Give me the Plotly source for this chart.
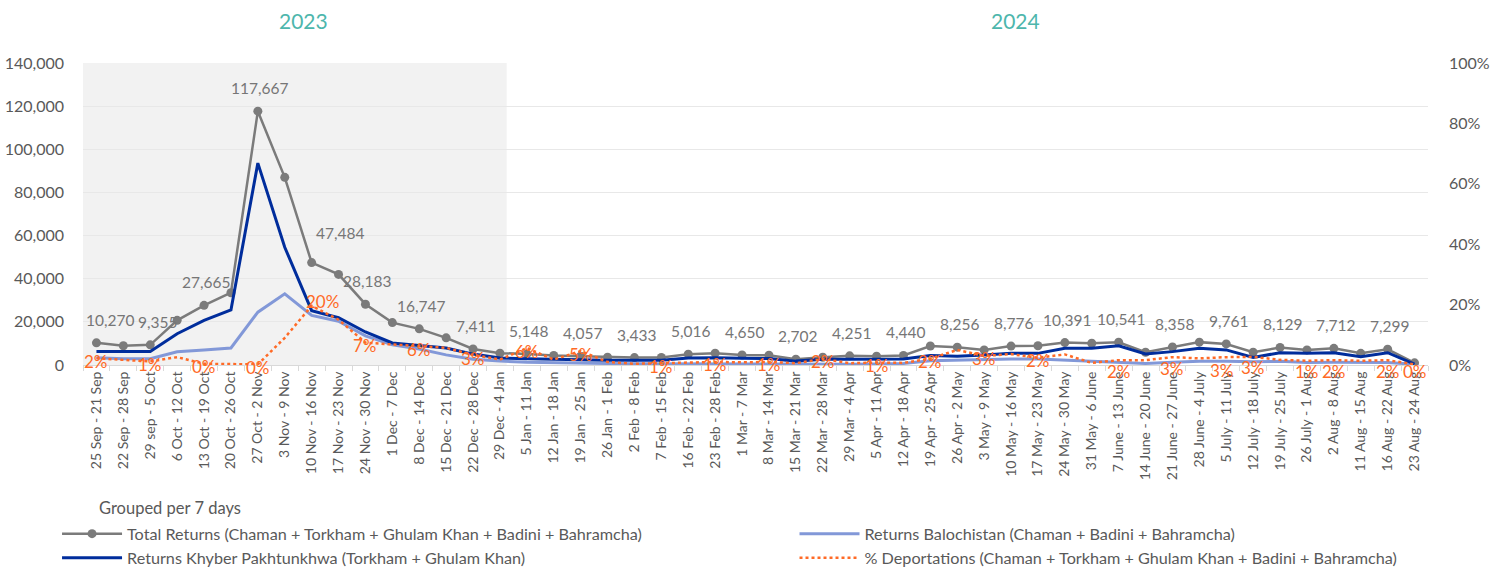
import plotly.graph_objects as go

categories = [
    "25 Sep - 21 Sep", "22 Sep - 28 Sep", "29 sep - 5 Oct", "6 Oct - 12 Oct", "13 Oct - 19 Oct",
    "20 Oct - 26 Oct", "27 Oct - 2 Nov", "3 Nov - 9 Nov", "10 Nov - 16 Nov", "17 Nov - 23 Nov",
    "24 Nov - 30 Nov", "1 Dec - 7 Dec", "8 Dec - 14 Dec", "15 Dec - 21 Dec", "22 Dec - 28 Dec",
    "29 Dec - 4 Jan", "5 Jan - 11 Jan", "12 Jan - 18 Jan", "19 Jan - 25 Jan", "26 Jan - 1 Feb",
    "2 Feb - 8 Feb", "7 Feb - 15 Feb", "16 Feb - 22 Feb", "23 Feb - 28 Feb", "1 Mar - 7 Mar",
    "8 Mar - 14 Mar", "15 Mar - 21 Mar", "22 Mar - 28 Mar", "29 Mar - 4 Apr", "5 Apr - 11 Apr",
    "12 Apr - 18 Apr", "19 Apr - 25 Apr", "26 Apr - 2 May", "3 May - 9 May", "10 May - 16 May",
    "17 May - 23 May", "24 May - 30 May", "31 May - 6 June", "7 June - 13 June", "14 June - 20 June",
    "21 June - 27 June", "28 June - 4 July", "5 July - 11 July", "12 July - 18 July", "19 July - 25 July",
    "26 July - 1 Aug", "2 Aug - 8 Aug", "11 Aug - 15 Aug", "16 Aug - 22 Aug", "23 Aug - 24 Aug",
]

total_returns = [
    10270, 8900, 9355, 20700, 27665, 33500, 117667, 87000, 47484, 42000,
    28183, 19650, 16747, 12600, 7411, 5500, 5148, 4400, 4057, 3600,
    3433, 3500, 5016, 5500, 4650, 4550, 2702, 3600, 4251, 4100,
    4440, 8800, 8256, 7000, 8776, 8900, 10391, 10100, 10541, 5900,
    8358, 10600, 9761, 5900, 8129, 7000, 7712, 5400, 7299, 1000,
]

returns_kp = [
    6300, 6200, 6300, 14500, 20700, 25500, 93600, 54600, 25200, 21900,
    15300, 10200, 9000, 7900, 5050, 3300, 2900, 2500, 2400, 2200,
    2100, 2200, 3200, 3400, 3100, 3000, 1800, 2700, 2700, 2700,
    2800, 4400, 4000, 4600, 5400, 5400, 7800, 7800, 8900, 5100,
    6200, 7800, 7000, 3500, 5700, 5400, 5700, 3850, 5700, 400,
]

returns_balochistan = [
    3400, 2900, 2900, 6100, 7000, 7900, 24500, 33000, 23000, 20300,
    13500, 9400, 7400, 4700, 2700, 1800, 1300, 1000, 850, 700,
    550, 500, 400, 350, 350, 350, 300, 350, 350, 450,
    700, 2000, 2300, 2600, 2800, 2800, 2200, 1800, 1300, 700,
    1300, 1700, 1700, 1500, 1700, 1200, 1300, 1200, 1200, 300,
]

pct_deportations = [
    2.2, 1.8, 1.2, 2.6, 0.4, 0.3, 0.2, 9.0, 19.6, 15.0,
    7.4, 6.8, 6.2, 5.7, 3.3, 1.8, 5.6, 1.8, 4.6, 1.0,
    0.4, 0.6, 0.7, 1.0, 0.9, 1.0, 0.6, 2.0, 0.6, 0.8,
    0.7, 2.1, 5.0, 3.0, 3.6, 2.4, 3.5, 0.7, 1.6, 1.6,
    2.6, 2.2, 2.6, 2.7, 1.7, 1.4, 1.6, 1.4, 1.6, 0.2,
]

total_label_idx = list(range(0, 50, 2))
pct_label_idx = [0, 2, 4, 6, 8, 10, 12, 14, 16, 18, 21, 23, 25, 27, 29, 31, 33, 35,
                 38, 40, 42, 43, 45, 46, 48, 49]

year_labels = ["2023", "2024"]
left_ticks = [0, 20000, 40000, 60000, 80000, 100000, 120000, 140000]
right_ticks = [0, 20, 40, 60, 80, 100]

# ---- styling ----
FONT = "Lato"
GRAY_TXT = "#595959"
C_TOTAL = "#7b7b7b"
C_KP = "#002d9c"
C_BAL = "#8298d8"
C_DEP = "#ff6a26"

# label offsets (xshift, yshift) in px – styling only
total_shift = {0: (14, 23), 2: (7, 23), 8: (28, 30)}
pct_shift_default = (0, -3)
pct_shift = {8: (11, 4)}
for i in [38, 40, 42, 43, 45, 46, 48]:
    pct_shift[i] = (0, -11)
pct_shift[49] = (0, -7)
pct_shift[42] = (-4, -13)

fig = go.Figure()

fig.add_trace(go.Scatter(
    x=categories, y=total_returns, mode="lines+markers",
    name="Total Returns (Chaman + Torkham + Ghulam Khan + Badini + Bahramcha)",
    line=dict(color=C_TOTAL, width=2.5), marker=dict(color=C_TOTAL, size=9),
    legend="legend", legendrank=1,
))
fig.add_trace(go.Scatter(
    x=categories, y=returns_balochistan, mode="lines",
    name="Returns Balochistan (Chaman + Badini + Bahramcha)",
    line=dict(color=C_BAL, width=3), legend="legend2", legendrank=1,
))
fig.add_trace(go.Scatter(
    x=categories, y=returns_kp, mode="lines",
    name="Returns Khyber Pakhtunkhwa (Torkham + Ghulam Khan)",
    line=dict(color=C_KP, width=3), legend="legend", legendrank=2,
))
fig.add_trace(go.Scatter(
    x=categories, y=pct_deportations, mode="lines", yaxis="y2",
    name="% Deportations (Chaman + Torkham + Ghulam Khan + Badini + Bahramcha)",
    line=dict(color=C_DEP, width=2.5, dash="dot"), legend="legend2", legendrank=2,
))

annotations = []
for i in total_label_idx:
    xs, ys = total_shift.get(i, (2, 23))
    annotations.append(dict(
        x=categories[i], y=total_returns[i], xref="x", yref="y",
        text=f"{total_returns[i]:,}", showarrow=False, xshift=xs, yshift=ys,
        xanchor="center", yanchor="middle",
        font=dict(family=FONT, size=15.5, color="#767676"),
    ))
for i in pct_label_idx:
    xs, ys = pct_shift.get(i, pct_shift_default)
    annotations.append(dict(
        x=categories[i], y=pct_deportations[i], xref="x", yref="y2",
        text=f"{pct_deportations[i]:.0f}%", showarrow=False, xshift=xs, yshift=ys,
        xanchor="center", yanchor="middle",
        font=dict(family=FONT, size=17, color=C_DEP),
    ))

annotations.append(dict(x=0.1636, y=1, xref="paper", yref="paper", yshift=43,
                        xanchor="center", yanchor="middle",
                        text=year_labels[0], showarrow=False,
                        font=dict(family=FONT, size=21, color="#4db6ac")))
annotations.append(dict(x=0.693, y=1, xref="paper", yref="paper", yshift=43,
                        xanchor="center", yanchor="middle",
                        text=year_labels[1], showarrow=False,
                        font=dict(family=FONT, size=21, color="#4db6ac")))
annotations.append(dict(x=0.0105, y=-0.475, xref="paper", yref="paper",
                        xanchor="left", yanchor="middle", text="Grouped per 7 days",
                        showarrow=False,
                        font=dict(family=FONT, size=16.5, color=GRAY_TXT)))

legend_common = dict(orientation="v", xanchor="left", yanchor="top",
                     font=dict(family=FONT, size=16.2, color=GRAY_TXT),
                     tracegroupgap=0, bgcolor="rgba(0,0,0,0)", itemwidth=60)

fig.update_layout(
    width=1503, height=571,
    margin=dict(l=83, r=75, t=63, b=206, autoexpand=False),
    paper_bgcolor="white", plot_bgcolor="white",
    font=dict(family=FONT, color=GRAY_TXT),
    showlegend=True,
    legend=dict(x=-0.0193, y=-0.502, **legend_common),
    legend2=dict(x=0.529, y=-0.502, **legend_common),
    annotations=annotations,
    shapes=[dict(type="rect", xref="x", yref="paper", x0=-0.5, x1=15.25, y0=0, y1=1,
                 fillcolor="#f2f2f2", line=dict(width=0), layer="below")],
    xaxis=dict(
        type="category", range=[-0.5, 49.5], tickangle=-90, automargin=False,
        tickfont=dict(family=FONT, size=14, color=GRAY_TXT),
        showline=True, linecolor="#d9d9d9", linewidth=1,
        ticks="outside", tickson="boundaries", ticklen=5, tickcolor="#d9d9d9",
        showgrid=False, zeroline=False,
    ),
    yaxis=dict(
        range=[0, 140000], tickvals=left_ticks, tickformat=",", automargin=False,
        tickfont=dict(family=FONT, size=16, color=GRAY_TXT),
        showgrid=True, gridcolor="#e8e8e8", gridwidth=1, zeroline=False,
        ticklabelstandoff=18,
    ),
    yaxis2=dict(
        range=[0, 100], tickmode="array", tickvals=right_ticks,
        ticktext=[f"{v}%" for v in right_ticks], overlaying="y", automargin=False,
        side="right", showgrid=False, zeroline=False,
        tickfont=dict(family=FONT, size=16, color=GRAY_TXT),
        ticklabelstandoff=20,
    ),
)

fig.write_html("out.html", config={"displayModeBar": False},
               post_script="document.body.style.margin='0px';")
